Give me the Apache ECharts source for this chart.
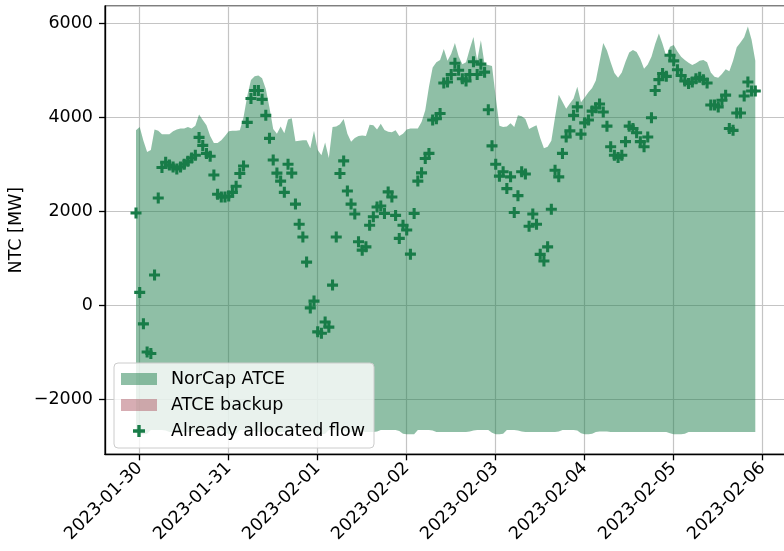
<!DOCTYPE html>
<html>
<head>
<meta charset="utf-8">
<script src="https://cdn.jsdelivr.net/npm/echarts@6/dist/echarts.min.js"></script>
<style>html,body{margin:0;padding:0;background:#fff}#c{width:784px;height:551px}</style>
</head>
<body>
<div id="c"></div>
<script>
// Hourly data: first point 2023-01-29 23:00, last 2023-02-05 22:00 (168 hours)
const startDate = '2023-01-29T23:00';
const dayTicks = ['2023-01-30','2023-01-31','2023-02-01','2023-02-02','2023-02-03','2023-02-04','2023-02-05','2023-02-06'];

const atceUpper = [
 3720,3790,3500,3260,3300,3740,3710,3640,3640,3640,3700,3740,3760,3760,3790,3760,3820,4060,3940,3830,3600,3450,3450,3510,
 3600,3700,3710,3710,3720,4000,4450,4790,4870,4890,4830,4600,4200,3750,3650,3800,3660,3950,3980,3490,3500,3510,3510,3340,
 3710,3300,3190,3460,3130,3790,3800,3850,3960,3650,3480,3560,3600,3610,3600,3840,3830,3740,3860,3730,3690,3680,3720,3600,
 3650,3740,3760,3760,3760,3900,4150,4650,5060,5170,5220,5450,5200,5350,5580,5300,5130,5170,5450,5710,5200,5640,5130,5110,
 5090,4430,3820,3790,3800,3870,3790,4040,4020,3960,3750,3790,3830,3560,3340,3370,3500,4000,4480,4330,4180,4290,4400,4650,
 4320,4420,4530,4620,4780,5180,5580,5420,5170,4940,4840,4950,5180,5380,5430,5390,5240,5030,5120,5290,5560,5780,5560,5300,
 5500,5540,5400,5290,5220,5160,5110,5150,5200,5220,5170,4950,4860,4840,4920,5020,4980,5200,5490,5590,5700,5930,5650,5200
];

const atceLower = [
 -2720,
 -2750,-2750,-2740,-2660,-2660,-2660,-2660,-2670,-2700,-2700,-2700,-2700,-2700,-2700,-2700,-2700,-2700,-2690,-2660,-2660,-2660,-2660,-2670,-2720,
 -2750,-2740,-2740,-2660,-2660,-2660,-2670,-2680,-2700,-2700,-2700,-2700,-2700,-2700,-2700,-2700,-2700,-2690,-2660,-2660,-2660,-2660,-2670,-2720,
 -2750,-2750,-2740,-2660,-2660,-2660,-2660,-2670,-2700,-2700,-2700,-2700,-2700,-2700,-2700,-2700,-2690,-2660,-2660,-2660,-2660,-2660,-2680,-2740,
 -2750,-2750,-2750,-2660,-2660,-2660,-2660,-2670,-2700,-2700,-2700,-2700,-2700,-2700,-2700,-2700,-2700,-2690,-2670,-2660,-2660,-2660,-2660,-2720,
 -2750,-2750,-2740,-2660,-2660,-2660,-2670,-2690,-2700,-2700,-2700,-2700,-2700,-2700,-2700,-2700,-2700,-2690,-2660,-2660,-2660,-2660,-2670,-2730,
 -2750,-2750,-2740,-2700,-2690,-2690,-2690,-2700,-2700,-2700,-2700,-2700,-2700,-2700,-2700,-2700,-2700,-2700,-2700,-2700,-2700,-2700,-2700,-2730,
 -2750,-2750,-2750,-2740,-2700,-2700,-2700,-2700,-2700,-2700,-2700,-2700,-2700,-2700,-2700,-2700,-2700,-2700,-2700,-2700,-2700,-2700,-2700
];

const backupValues = [];

const allocatedFlow = [
 1960,270,-400,-1000,-1030,640,2280,2930,3040,2980,2940,2900,2940,3000,3060,3130,3190,3570,3400,3230,3170,2770,2360,2300,
 2300,2320,2400,2530,2800,2960,3890,4400,4570,4570,4380,4040,3550,3090,2810,2640,2400,3000,2810,2150,1720,1450,915,-60,
 85,-570,-600,-360,-470,425,1450,2800,3070,2430,2150,1940,1350,1170,1240,1700,1880,2090,2110,1950,2410,2300,1910,1420,
 1700,1600,1085,1950,2640,2815,3120,3230,3940,3970,4080,4730,4750,4910,5150,5000,4820,4770,4910,5180,4910,5130,4960,4160,
 3390,3000,2745,2840,2480,2730,1970,2330,2840,2790,1680,1940,1720,1080,940,1240,2040,2870,2730,3230,3580,3710,4040,4220,
 3640,3880,3940,4130,4200,4280,4110,3810,3370,3190,3140,3190,3480,3810,3760,3670,3480,3370,3580,3990,4570,4800,4930,4870,
 5320,5200,5010,4890,4770,4720,4750,4820,4850,4800,4730,4260,4260,4220,4360,4470,3760,3720,4090,4090,4450,4750,4560,4560
];

// x positions in days since 2023-01-30 00:00 (first sample is one hour before)
const t0 = Date.UTC(2023,0,30);
const startOffsetHours = (Date.parse(startDate + 'Z') - t0) / 3600000;
const xDay = i => (startOffsetHours + i) / 24;

const bandData = atceUpper.map((v,i)=>[xDay(i), atceLower[i], v]);
const flowData = allocatedFlow.map((v,i)=>[xDay(i), v]);

const plusPath = 'path://M3.6,0h2.8v3.6h3.6v2.8h-3.6v3.6h-2.8v-3.6h-3.6v-2.8h3.6z';
const FONT = 'DejaVu Sans';
const FS = 17.5;
const areaColor = 'rgba(31,127,77,0.5)';
const markerColor = '#187c48';
const backupColor = 'rgba(176,92,104,0.5)';

const chart = echarts.init(document.getElementById('c'), null, {renderer:'canvas'});
chart.setOption({
  animation: false,
  backgroundColor: '#ffffff',
  textStyle: {fontFamily: FONT},
  grid: {left: 105, top: 6, width: 681.3, height: 448.3, show: true, borderColor: '#000', borderWidth: 1.2,
         backgroundColor: 'transparent', containLabel: false, outerBoundsMode: 'none'},
  xAxis: {
    type: 'value', min: -0.39, max: 7.265, splitNumber: 8,
    axisLine: {show: true, onZero: false, lineStyle: {color: '#000', width: 1.3}},
    axisTick: {show: true, length: 6, lineStyle: {color: '#000', width: 1.3}},
    axisLabel: {
      show: true, rotate: 45, margin: 11, color: '#000', fontSize: FS, fontFamily: FONT,
      showMinLabel: false, showMaxLabel: false,
      formatter: v => { const k = Math.round(v); return Math.abs(v-k) < 1e-6 && dayTicks[k] ? dayTicks[k] : ''; }
    },
    splitLine: {show: true, lineStyle: {color: '#c4c4c4', width: 1.2}}
  },
  yAxis: {
    type: 'value', min: -3177, max: 6368, splitNumber: 5,
    name: 'NTC [MW]', nameLocation: 'middle', nameRotate: 90, nameGap: 80, nameMoveOverlap: false,
    nameTextStyle: {color: '#000', fontSize: FS, fontFamily: FONT},
    axisLine: {show: true, onZero: false, lineStyle: {color: '#000', width: 1.3}},
    axisTick: {show: true, length: 6, lineStyle: {color: '#000', width: 1.3}},
    axisLabel: {
      color: '#000', fontSize: FS, fontFamily: FONT, margin: 12,
      showMinLabel: false, showMaxLabel: false,
      formatter: v => String(v).replace('-', '\u2212')
    },
    splitLine: {show: true, lineStyle: {color: '#c4c4c4', width: 1.2}}
  },
  legend: {
    orient: 'vertical', left: 114, top: 363,
    padding: [7, 9, 8, 7],
    backgroundColor: 'rgba(255,255,255,0.8)', borderColor: '#cccccc', borderWidth: 1, borderRadius: 4,
    itemWidth: 36, itemHeight: 12, itemGap: 8,
    textStyle: {color: '#000', fontSize: FS, fontFamily: FONT, lineHeight: 18, padding: [0,0,0,9]},
    data: [
      {name: 'NorCap ATCE', icon: 'rect', itemStyle: {color: areaColor}},
      {name: 'ATCE backup', icon: 'rect', itemStyle: {color: backupColor}},
      {name: 'Already allocated flow', icon: plusPath, itemStyle: {color: markerColor}}
    ]
  },
  series: [
    {
      name: 'NorCap ATCE', type: 'custom', data: bandData,
      encode: {x: 0, y: [1, 2]},
      itemStyle: {color: areaColor},
      z: 1,
      renderItem: (params, api) => {
        if (params.dataIndex !== 0) return null;
        const pts = [];
        for (let i = 0; i < bandData.length; i++) pts.push(api.coord([bandData[i][0], bandData[i][2]]));
        for (let i = bandData.length - 1; i >= 0; i--) pts.push(api.coord([bandData[i][0], bandData[i][1]]));
        return {type: 'polygon', shape: {points: pts}, style: {fill: areaColor}};
      }
    },
    {
      name: 'ATCE backup', type: 'line', data: backupValues, symbol: 'none', z: 1,
      lineStyle: {opacity: 0}, areaStyle: {color: backupColor}, itemStyle: {color: backupColor}
    },
    {
      name: 'Already allocated flow', type: 'scatter', data: flowData, z: 3,
      symbol: plusPath, symbolSize: 11, itemStyle: {color: markerColor, opacity: 1}
    }
  ]
});
</script>
</body>
</html>
